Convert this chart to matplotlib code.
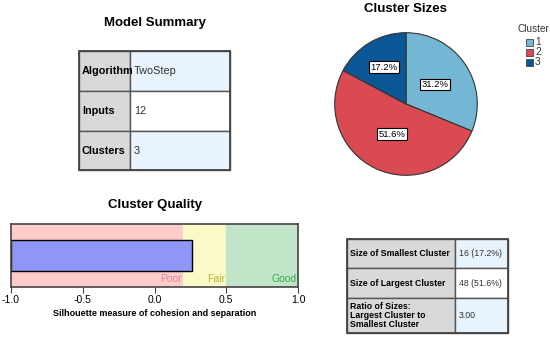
import matplotlib
matplotlib.use("Agg")
import matplotlib.pyplot as plt
import numpy as np
from matplotlib.patches import Rectangle

plt.rcParams['font.family'] = ['Liberation Sans', 'DejaVu Sans']

# data
summary_labels = ['Algorithm', 'Inputs', 'Clusters']
summary_values = ['TwoStep', '12', '3']

cluster_names = ['1', '2', '3']
cluster_pct = [31.2, 51.6, 17.2]
cluster_colors = ['#74b7d4', '#d94a52', '#0b5796']

silhouette = 0.26
band_edges = [-1.0, 0.2, 0.5, 1.0]
band_names = ['Poor', 'Fair', 'Good']
band_colors = ['#ffcccc', '#fafac8', '#c2e4c8']
band_text_colors = ['#e08a8a', '#b5b52a', '#2fb04a']

size_labels = ['Size of Smallest Cluster', 'Size of Largest Cluster',
               'Ratio of Sizes:\nLargest Cluster to\nSmallest Cluster']
size_values = ['16 (17.2%)', '48 (51.6%)', '3.00']

W, H = 550, 339
fig = plt.figure(figsize=(W / 100, H / 100), dpi=100)

# overlay axes in pixel coords for the tables and titles
ov = fig.add_axes([0, 0, 1, 1])
ov.set_xlim(0, W)
ov.set_ylim(H, 0)
ov.axis('off')


def draw_table(x0, xs, x1, rows, labels, values, right_colors, fs):
    for i, (lab, val) in enumerate(zip(labels, values)):
        ya, yb = rows[i], rows[i + 1]
        ov.add_patch(Rectangle((x0, ya), xs - x0, yb - ya, facecolor='#d9d9d9',
                               edgecolor='#555555', lw=1))
        ov.add_patch(Rectangle((xs, ya), x1 - xs, yb - ya, facecolor=right_colors[i],
                               edgecolor='#555555', lw=1))
        ym = (ya + yb) / 2
        ov.text(x0 + 3, ym, lab, ha='left', va='center', fontsize=fs,
                fontweight='bold', linespacing=0.95)
        ov.text(xs + 4, ym, val, ha='left', va='center', fontsize=fs, color='#333333')
    ov.add_patch(Rectangle((x0, rows[0]), x1 - x0, rows[-1] - rows[0], fill=False,
                           edgecolor='#444444', lw=1.3))


# Model Summary
ov.text(155, 23, 'Model Summary', ha='center', va='center', fontsize=9.5, fontweight='bold')
draw_table(79, 130, 230, [51, 91, 131, 170], summary_labels, summary_values,
           ['#e8f4fd', '#ffffff', '#e8f4fd'], 7.8)

# Cluster sizes table
draw_table(347, 455, 508, [239, 268, 298, 333], size_labels, size_values,
           ['#e8f4fd', '#ffffff', '#e8f4fd'], 6.3)

# Pie
ov.text(405, 9, 'Cluster Sizes', ha='center', va='center', fontsize=9.5, fontweight='bold')
r = 72
pax = fig.add_axes([(406 - r) / W, 1 - (104 + r) / H, 2 * r / W, 2 * r / H])
wedges, texts = pax.pie(cluster_pct, colors=cluster_colors, startangle=90, counterclock=False,
                        wedgeprops=dict(edgecolor='#333333', linewidth=0.8))
label_r = [0.49, 0.47, 0.6]
for w, p, lr in zip(wedges, cluster_pct, label_r):
    ang = np.deg2rad((w.theta1 + w.theta2) / 2)
    pax.text(lr * np.cos(ang), lr * np.sin(ang), '%.1f%%' % p, ha='center', va='center',
             fontsize=6.8,
             bbox=dict(boxstyle='square,pad=0.15', facecolor='white', edgecolor='black', lw=0.8))
pax.set_xlim(-1.01, 1.01)
pax.set_ylim(-1.01, 1.01)
pax.set_aspect('equal')

# legend
ov.text(533, 29, 'Cluster', ha='center', va='center', fontsize=7.2, color='#333333')
for i, (n, c) in enumerate(zip(cluster_names, cluster_colors)):
    y = 42 + i * 10
    ov.add_patch(Rectangle((526, y - 3.5), 7, 7, facecolor=c, edgecolor='#444444', lw=0.6))
    ov.text(535, y, n, ha='left', va='center', fontsize=7.2, color='#333333')

# Cluster quality
ov.text(155, 205, 'Cluster Quality', ha='center', va='center', fontsize=9.5, fontweight='bold')
qax = fig.add_axes([11 / W, 1 - 287 / H, 287 / W, 63 / H])
for i in range(len(band_names)):
    lo, hi = band_edges[i], band_edges[i + 1]
    qax.axvspan(lo, hi, color=band_colors[i], zorder=0)
    qax.text(hi - 0.01, 0.05, band_names[i], ha='right', va='bottom',
             color=band_text_colors[i], fontsize=7.5, transform=qax.get_xaxis_transform())
qax.barh([0], [silhouette + 1.0], left=-1.0, height=0.5, color='#8f96f5',
         edgecolor='black', linewidth=1, zorder=2)
qax.set_xlim(-1, 1)
qax.set_ylim(-0.5, 0.5)
qax.set_yticks([])
qax.set_xticks([-1.0, -0.5, 0.0, 0.5, 1.0])
qax.set_xticklabels(['-1.0', '-0.5', '0.0', '0.5', '1.0'], fontsize=7.5)
qax.tick_params(axis='x', length=4, pad=2, color='#444444')
qax.set_xlabel('Silhouette measure of cohesion and separation', fontsize=6.5,
               fontweight='bold', labelpad=3)
for s in qax.spines.values():
    s.set_color('#444444')
    s.set_linewidth(1.2)

fig.savefig('out.png', dpi=100)
